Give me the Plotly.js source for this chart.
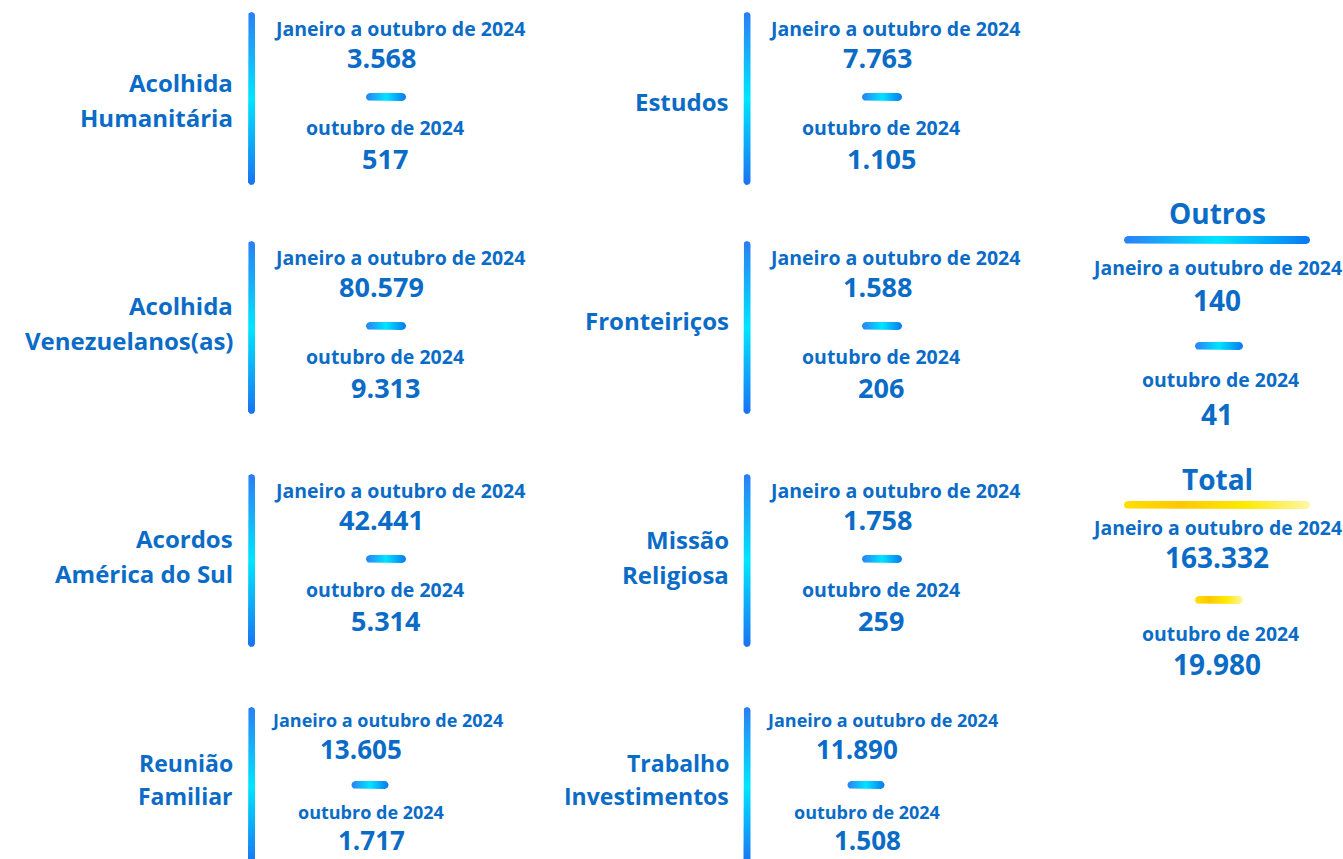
<!DOCTYPE html>
<html>
<head>
<meta charset="utf-8">
<script src="https://cdn.plot.ly/plotly-3.0.1.min.js"></script>
<style>
  html, body { margin: 0; padding: 0; background: #ffffff; }
  #chart { width: 1343px; height: 859px; }
</style>
</head>
<body>
<div id="chart"></div>
<script>
// ---------------- DATA ----------------
const categories = [
  "Acolhida<br>Humanitária",
  "Acolhida<br>Venezuelanos(as)",
  "Acordos<br>América do Sul",
  "Reunião<br>Familiar",
  "Estudos",
  "Fronteiriços",
  "Missão<br>Religiosa",
  "Trabalho<br>Investimentos"
];
const valuesJanOct = ["3.568", "80.579", "42.441", "13.605", "7.763", "1.588", "1.758", "11.890"];
const valuesOct    = ["517", "9.313", "5.314", "1.717", "1.105", "206", "259", "1.508"];
const periodLabels = ["Janeiro a outubro de 2024", "outubro de 2024"];
const sideTitles   = ["Outros", "Total"];
const sideJanOct   = ["140", "163.332"];
const sideOct      = ["41", "19.980"];

// ---------------- LAYOUT CONSTANTS ----------------
const W = 1343, H = 859;
const TXT = "#0b6cc7";
const FONT = "Open Sans";
const blueV = [[0, "#1a72f2"], [0.5, "#00e5ff"], [1, "#2a7ef5"]];
const blueH = [[0, "#2a80f5"], [0.5, "#00e5ff"], [1, "#0a78f0"]];
const yellowH = [[0, "#ffe000"], [0.3, "#ffc800"], [0.65, "#ffea00"], [1, "#fff6a8"]];

const cols = [
  {bar: 251.5, labelRight: 235, hdr: 399, val: 381, mid: 386},
  {bar: 747, labelRight: 731, hdr: 894, val: 877, mid: 882}
];
const rowTop = [12, 241, 474, 707];
const labelOffset = [[88, 82, 82, 72.5], [89, 79, 82.5, 72]];
const rowH = 173;

const traces = [];
const annotations = [];

function roundedRect(x0, y0, x1, y1, r) {
  const xs = [], ys = [];
  const corners = [
    [x1 - r, y0 + r, -Math.PI / 2, 0],
    [x1 - r, y1 - r, 0, Math.PI / 2],
    [x0 + r, y1 - r, Math.PI / 2, Math.PI],
    [x0 + r, y0 + r, Math.PI, 1.5 * Math.PI]
  ];
  corners.forEach(([cx, cy, a0, a1]) => {
    for (let i = 0; i <= 6; i++) {
      const a = a0 + (a1 - a0) * i / 6;
      xs.push(cx + r * Math.cos(a));
      ys.push(cy + r * Math.sin(a));
    }
  });
  xs.push(xs[0]); ys.push(ys[0]);
  return {xs, ys};
}

function gradBar(x0, y0, x1, y1, scale, dir) {
  const r = Math.min(x1 - x0, y1 - y0) / 2;
  const p = roundedRect(x0, y0, x1, y1, r);
  traces.push({
    type: "scatter", mode: "lines", x: p.xs, y: p.ys,
    fill: "toself", line: {width: 0, color: "rgba(0,0,0,0)"},
    fillgradient: {type: dir, colorscale: scale,
      start: dir === "vertical" ? y1 : x0, stop: dir === "vertical" ? y0 : x1},
    hoverinfo: "skip", showlegend: false
  });
}

function txt(x, y, text, size, align, xanchor) {
  annotations.push({
    x: x, y: y, xref: "x", yref: "y", text: text, showarrow: false,
    xanchor: xanchor || "center", yanchor: "middle", align: align || "center",
    font: {family: FONT, size: size, color: TXT, weight: 700}
  });
}

categories.forEach((cat, i) => {
  const ci = Math.floor(i / 4);
  const c = cols[ci];
  const r = i % 4;
  const top = rowTop[r];
  const last = r === 3;
  const bottom = last ? H + 6 : top + rowH;
  gradBar(c.bar - 3.5, top, c.bar + 3.5, bottom, blueV, "vertical");
  const shift = last ? -12 : 0;
  // category label, one annotation per line
  const lines = cat.split("<br>");
  const lc = top + labelOffset[ci][r];
  const gap = last ? 33 : 35;
  lines.forEach((ln, k) => {
    const ly = lc + (k - (lines.length - 1) / 2) * gap;
    txt(c.labelRight, ly, ln, last ? 23 : 24, "right", "right");
  });
  txt(c.hdr + shift, last ? top + 13 : top + 16, periodLabels[0], last ? 18 : 19.5);
  txt(c.val + shift - (last ? 8 : 0), last ? top + 42 : top + 45, valuesJanOct[i], last ? 26 : 27);
  const mx = c.mid + shift - (last ? 4 : 0);
  const my = last ? top + 78 : top + 85;
  gradBar(mx - (last ? 18.5 : 20), my - 4, mx + (last ? 18.5 : 20), my + 4, blueH, "horizontal");
  txt(c.mid + shift - 1 - (last ? 2 : 0), last ? top + 105 : top + 115, periodLabels[1], last ? 18 : 19.5);
  txt(c.mid + shift - 1 - (last ? 2 : 0), last ? top + 133 : top + 146, valuesOct[i], last ? 26 : 27);
});

// side panels: Outros and Total
const side = [
  {title: 213, bar: 240, hdr: 267, val: 300, mid: 346, hdr2: 379, val2: 414, scale: blueH},
  {title: 479, bar: 505, hdr: 527, val: 557, mid: 600, hdr2: 633, val2: 664, scale: yellowH}
];
side.forEach((s, k) => {
  const cx = 1217;
  txt(cx, s.title, sideTitles[k], 28);
  gradBar(1124, s.bar - 4, 1310, s.bar + 4, s.scale, "horizontal");
  txt(cx, s.hdr, periodLabels[0], 19.4);
  txt(cx, s.val, sideJanOct[k], 28);
  gradBar(cx - 22, s.mid - 4, cx + 26, s.mid + 4, s.scale, "horizontal");
  txt(cx + 3, s.hdr2, periodLabels[1], 19.4);
  txt(cx, s.val2, sideOct[k], 28);
});

const layout = {
  width: W, height: H,
  margin: {l: 0, r: 0, t: 0, b: 0},
  paper_bgcolor: "#ffffff", plot_bgcolor: "#ffffff",
  xaxis: {range: [0, W], visible: false, fixedrange: true},
  yaxis: {range: [H, 0], visible: false, fixedrange: true},
  annotations: annotations,
  showlegend: false
};

Plotly.newPlot("chart", traces, layout, {displayModeBar: false, staticPlot: true});
</script>
</body>
</html>
